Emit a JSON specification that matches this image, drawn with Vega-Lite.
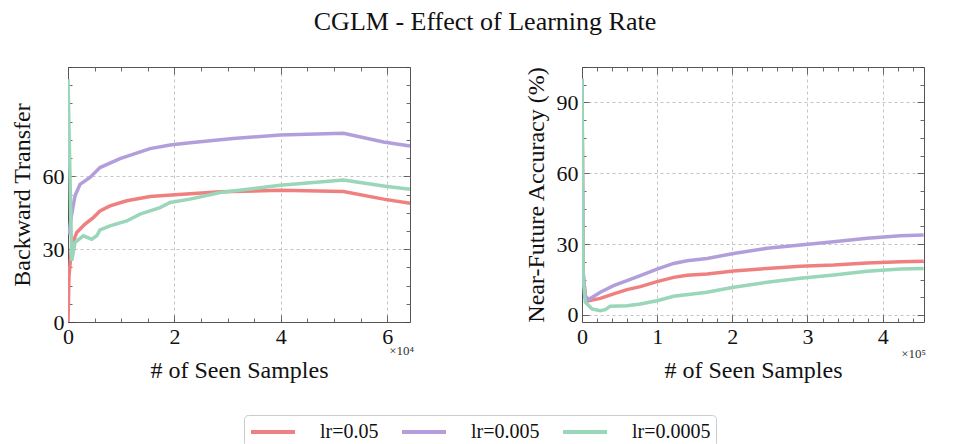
{
  "$schema": "https://vega.github.io/schema/vega-lite/v6.json",
  "background": "white",
  "padding": {"left": 10, "top": 9, "right": 5, "bottom": 5},
  "title": {"text": "CGLM - Effect of Learning Rate", "font": "Liberation Serif", "fontSize": 26, "fontWeight": "normal", "color": "#111", "anchor": "middle", "offset": 21, "dx": 17},
  "config": {
    "font": "Liberation Serif",
    "view": {"stroke": null},
    "axis": {
      "labelFont": "Liberation Serif", "labelFontSize": 22, "labelColor": "#111",
      "titleFont": "Liberation Serif", "titleFontSize": 24, "titleFontWeight": "normal", "titleColor": "#111",
      "domainColor": "#555", "domainWidth": 1, "tickColor": "#444", "tickWidth": 0.8,
      "gridColor": "#b5b5b5", "gridDash": [3, 3], "gridWidth": 0.8,
      "labelOverlap": false, "labelFlush": false, "labelPadding": 11
    }
  },
  "datasets": {
    "bt": [
      {"lr": "lr=0.05", "samples": 0, "value": 0},
      {"lr": "lr=0.05", "samples": 190, "value": 19},
      {"lr": "lr=0.05", "samples": 700, "value": 31.4},
      {"lr": "lr=0.05", "samples": 1640, "value": 36.9},
      {"lr": "lr=0.05", "samples": 3200, "value": 40.3},
      {"lr": "lr=0.05", "samples": 4760, "value": 43},
      {"lr": "lr=0.05", "samples": 6020, "value": 45.7},
      {"lr": "lr=0.05", "samples": 7900, "value": 47.8},
      {"lr": "lr=0.05", "samples": 11040, "value": 49.9},
      {"lr": "lr=0.05", "samples": 15430, "value": 51.7},
      {"lr": "lr=0.05", "samples": 20130, "value": 52.4},
      {"lr": "lr=0.05", "samples": 28600, "value": 53.6},
      {"lr": "lr=0.05", "samples": 39890, "value": 54.2},
      {"lr": "lr=0.05", "samples": 51800, "value": 53.7},
      {"lr": "lr=0.05", "samples": 59320, "value": 50.6},
      {"lr": "lr=0.05", "samples": 64300, "value": 48.9},
      {"lr": "lr=0.005", "samples": 150, "value": 36},
      {"lr": "lr=0.005", "samples": 660, "value": 44},
      {"lr": "lr=0.005", "samples": 1320, "value": 52},
      {"lr": "lr=0.005", "samples": 2260, "value": 56.7},
      {"lr": "lr=0.005", "samples": 4140, "value": 59.5},
      {"lr": "lr=0.005", "samples": 6020, "value": 63.6},
      {"lr": "lr=0.005", "samples": 9780, "value": 67.3},
      {"lr": "lr=0.005", "samples": 15430, "value": 71.4},
      {"lr": "lr=0.005", "samples": 19190, "value": 72.9},
      {"lr": "lr=0.005", "samples": 22950, "value": 73.8},
      {"lr": "lr=0.005", "samples": 31040, "value": 75.6},
      {"lr": "lr=0.005", "samples": 39890, "value": 77},
      {"lr": "lr=0.005", "samples": 51800, "value": 77.7},
      {"lr": "lr=0.005", "samples": 59320, "value": 74.1},
      {"lr": "lr=0.005", "samples": 64300, "value": 72.5},
      {"lr": "lr=0.0005", "samples": 0, "value": 100},
      {"lr": "lr=0.0005", "samples": 700, "value": 25.2},
      {"lr": "lr=0.0005", "samples": 1320, "value": 32.8},
      {"lr": "lr=0.0005", "samples": 2880, "value": 35.5},
      {"lr": "lr=0.0005", "samples": 4460, "value": 34.1},
      {"lr": "lr=0.0005", "samples": 5400, "value": 35.5},
      {"lr": "lr=0.0005", "samples": 6020, "value": 37.9},
      {"lr": "lr=0.0005", "samples": 7900, "value": 39.6},
      {"lr": "lr=0.0005", "samples": 11040, "value": 41.6},
      {"lr": "lr=0.0005", "samples": 13550, "value": 44.4},
      {"lr": "lr=0.0005", "samples": 17310, "value": 47.1},
      {"lr": "lr=0.0005", "samples": 19190, "value": 49.2},
      {"lr": "lr=0.0005", "samples": 22950, "value": 50.6},
      {"lr": "lr=0.0005", "samples": 28600, "value": 53.3},
      {"lr": "lr=0.0005", "samples": 39890, "value": 56.3},
      {"lr": "lr=0.0005", "samples": 51800, "value": 58.5},
      {"lr": "lr=0.0005", "samples": 59320, "value": 56},
      {"lr": "lr=0.0005", "samples": 64300, "value": 54.7}
    ],
    "nfa": [
      {"lr": "lr=0.05", "samples": 0, "value": 100},
      {"lr": "lr=0.05", "samples": 1500, "value": 18},
      {"lr": "lr=0.05", "samples": 4390, "value": 8},
      {"lr": "lr=0.05", "samples": 8780, "value": 6.0},
      {"lr": "lr=0.05", "samples": 24350, "value": 7.0},
      {"lr": "lr=0.05", "samples": 42050, "value": 8.9},
      {"lr": "lr=0.05", "samples": 59880, "value": 10.7},
      {"lr": "lr=0.05", "samples": 77580, "value": 12.0},
      {"lr": "lr=0.05", "samples": 99800, "value": 14.1},
      {"lr": "lr=0.05", "samples": 121890, "value": 15.9},
      {"lr": "lr=0.05", "samples": 139720, "value": 16.8},
      {"lr": "lr=0.05", "samples": 166330, "value": 17.3},
      {"lr": "lr=0.05", "samples": 201730, "value": 18.6},
      {"lr": "lr=0.05", "samples": 246170, "value": 19.7},
      {"lr": "lr=0.05", "samples": 290490, "value": 20.6},
      {"lr": "lr=0.05", "samples": 334800, "value": 21.1},
      {"lr": "lr=0.05", "samples": 379240, "value": 22},
      {"lr": "lr=0.05", "samples": 423490, "value": 22.5},
      {"lr": "lr=0.05", "samples": 454560, "value": 22.7},
      {"lr": "lr=0.005", "samples": 0, "value": 100},
      {"lr": "lr=0.005", "samples": 1500, "value": 18},
      {"lr": "lr=0.005", "samples": 4390, "value": 8},
      {"lr": "lr=0.005", "samples": 8780, "value": 6.5},
      {"lr": "lr=0.005", "samples": 24350, "value": 9.6},
      {"lr": "lr=0.005", "samples": 42050, "value": 12.4},
      {"lr": "lr=0.005", "samples": 59880, "value": 14.5},
      {"lr": "lr=0.005", "samples": 77580, "value": 16.6},
      {"lr": "lr=0.005", "samples": 99800, "value": 19.4},
      {"lr": "lr=0.005", "samples": 121890, "value": 21.8},
      {"lr": "lr=0.005", "samples": 139720, "value": 22.9},
      {"lr": "lr=0.005", "samples": 166330, "value": 23.9},
      {"lr": "lr=0.005", "samples": 201730, "value": 26},
      {"lr": "lr=0.005", "samples": 246170, "value": 28.2},
      {"lr": "lr=0.005", "samples": 290490, "value": 29.6},
      {"lr": "lr=0.005", "samples": 334800, "value": 31},
      {"lr": "lr=0.005", "samples": 379240, "value": 32.5},
      {"lr": "lr=0.005", "samples": 423490, "value": 33.5},
      {"lr": "lr=0.005", "samples": 454560, "value": 33.8},
      {"lr": "lr=0.0005", "samples": 0, "value": 100},
      {"lr": "lr=0.0005", "samples": 1500, "value": 16},
      {"lr": "lr=0.0005", "samples": 4390, "value": 5.4},
      {"lr": "lr=0.0005", "samples": 13310, "value": 2.5},
      {"lr": "lr=0.0005", "samples": 24350, "value": 1.8},
      {"lr": "lr=0.0005", "samples": 31000, "value": 2.2},
      {"lr": "lr=0.0005", "samples": 37660, "value": 3.7},
      {"lr": "lr=0.0005", "samples": 59880, "value": 3.9},
      {"lr": "lr=0.0005", "samples": 77580, "value": 4.6},
      {"lr": "lr=0.0005", "samples": 99800, "value": 6.0},
      {"lr": "lr=0.0005", "samples": 121890, "value": 7.9},
      {"lr": "lr=0.0005", "samples": 166330, "value": 9.6},
      {"lr": "lr=0.0005", "samples": 201730, "value": 11.7},
      {"lr": "lr=0.0005", "samples": 246170, "value": 13.8},
      {"lr": "lr=0.0005", "samples": 290490, "value": 15.5},
      {"lr": "lr=0.0005", "samples": 334800, "value": 16.9},
      {"lr": "lr=0.0005", "samples": 379240, "value": 18.5},
      {"lr": "lr=0.0005", "samples": 423490, "value": 19.4},
      {"lr": "lr=0.0005", "samples": 454560, "value": 19.7}
    ]
  },
  "spacing": 172,
  "bounds": "flush",
  "resolve": {"scale": {"color": "shared"}},
  "hconcat": [
    {
      "width": 342,
      "height": 255,
      "resolve": {"axis": {"x": "independent", "y": "independent"}},
      "layer": [
        {
          "data": {"name": "bt"},
          "mark": {"type": "line", "strokeWidth": 3.5, "clip": true},
          "encoding": {
            "x": {"field": "samples", "type": "quantitative", "scale": {"domain": [0, 64300], "nice": false},
              "axis": {"orient": "bottom", "title": "# of Seen Samples", "titlePadding": 8,
                "values": [0, 5000, 10000, 15000, 20000, 25000, 30000, 35000, 40000, 45000, 50000, 55000, 60000],
                "labelExpr": "datum.value % 20000 === 0 ? format(datum.value / 10000, 'd') : ''",
                "tickSize": {"condition": {"test": "datum.value % 20000 === 0", "value": -7}, "value": -4},
                "gridOpacity": {"condition": {"test": "datum.value % 20000 === 0", "value": 1}, "value": 0}}},
            "y": {"field": "value", "type": "quantitative", "scale": {"domain": [0, 105], "nice": false},
              "axis": {"orient": "left", "title": "Backward Transfer", "titlePadding": 8,
                "values": [0, 7.5, 15, 22.5, 30, 37.5, 45, 52.5, 60, 67.5, 75, 82.5, 90, 97.5, 105],
                "labelExpr": "(datum.value % 30 === 0 && datum.value <= 60) ? format(datum.value, 'd') : ''",
                "tickSize": {"condition": {"test": "datum.value % 30 === 0 && datum.value <= 60", "value": -7}, "value": -4},
                "gridOpacity": {"condition": {"test": "datum.value % 30 === 0 && datum.value <= 60", "value": 1}, "value": 0}}},
            "color": {"field": "lr", "type": "nominal",
              "scale": {"domain": ["lr=0.05", "lr=0.005", "lr=0.0005"], "range": ["#F08080", "#B39EDC", "#9AD6B9"]},
              "legend": {"orient": "none", "legendX": 176, "legendY": 348, "direction": "horizontal", "columns": 3, "title": null,
                "symbolType": "M-2.2,0H2.2", "symbolStrokeWidth": 4, "symbolSize": 400, "symbolOffset": 12,
                "labelFontSize": 20, "labelFont": "Liberation Serif",
                "labelColor": "#111", "strokeColor": "#cccccc", "padding": 5, "cornerRadius": 4, "columnPadding": 15, "labelOffset": 35}}
          }
        },
        {
          "data": {"name": "bt"},
          "mark": {"type": "line", "strokeOpacity": 0},
          "encoding": {
            "x": {"field": "samples", "type": "quantitative",
              "axis": {"orient": "top", "title": null, "labels": false, "grid": false,
                "values": [0, 5000, 10000, 15000, 20000, 25000, 30000, 35000, 40000, 45000, 50000, 55000, 60000],
                "tickSize": {"condition": {"test": "datum.value % 20000 === 0", "value": -7}, "value": -4}}},
            "y": {"field": "value", "type": "quantitative",
              "axis": {"orient": "right", "title": null, "labels": false, "grid": false,
                "values": [0, 7.5, 15, 22.5, 30, 37.5, 45, 52.5, 60, 67.5, 75, 82.5, 90, 97.5, 105],
                "tickSize": {"condition": {"test": "datum.value % 30 === 0 && datum.value <= 60", "value": -7}, "value": -4}}},
            "detail": {"field": "lr"}
          }
        },
        {
          "data": {"values": [{}]},
          "mark": {"type": "text", "text": "×10⁴", "align": "right", "baseline": "middle", "fontSize": 13, "font": "Liberation Serif", "color": "#333", "dx": 4},
          "encoding": {
            "x": {"datum": 64300, "type": "quantitative", "axis": null},
            "y": {"datum": -12, "type": "quantitative", "axis": null}
          }
        }
      ]
    },
    {
      "width": 342,
      "height": 255,
      "resolve": {"axis": {"x": "independent", "y": "independent"}},
      "layer": [
        {
          "data": {"name": "nfa"},
          "mark": {"type": "line", "strokeWidth": 3.5, "clip": true},
          "encoding": {
            "x": {"field": "samples", "type": "quantitative", "scale": {"domain": [0, 455000], "nice": false},
              "axis": {"orient": "bottom", "title": "# of Seen Samples", "titlePadding": 8,
                "values": [0, 20000, 40000, 60000, 80000, 100000, 120000, 140000, 160000, 180000, 200000, 220000, 240000, 260000, 280000, 300000, 320000, 340000, 360000, 380000, 400000, 420000, 440000],
                "labelExpr": "datum.value % 100000 === 0 ? format(datum.value / 100000, 'd') : ''",
                "tickSize": {"condition": {"test": "datum.value % 100000 === 0", "value": -7}, "value": -4},
                "gridOpacity": {"condition": {"test": "datum.value % 100000 === 0", "value": 1}, "value": 0}}},
            "y": {"field": "value", "type": "quantitative", "scale": {"domain": [-3, 105], "nice": false, "zero": false},
              "axis": {"orient": "left", "title": "Near-Future Accuracy (%)", "titlePadding": 8,
                "values": [0, 7.5, 15, 22.5, 30, 37.5, 45, 52.5, 60, 67.5, 75, 82.5, 90, 97.5, 105],
                "labelExpr": "datum.value % 30 === 0 ? format(datum.value, 'd') : ''",
                "tickSize": {"condition": {"test": "datum.value % 30 === 0", "value": -7}, "value": -4},
                "gridOpacity": {"condition": {"test": "datum.value % 30 === 0", "value": 1}, "value": 0}}},
            "color": {"field": "lr", "type": "nominal",
              "scale": {"domain": ["lr=0.05", "lr=0.005", "lr=0.0005"], "range": ["#F08080", "#B39EDC", "#9AD6B9"]},
              "legend": {"orient": "none", "legendX": 176, "legendY": 348, "direction": "horizontal", "columns": 3, "title": null,
                "symbolType": "M-2.2,0H2.2", "symbolStrokeWidth": 4, "symbolSize": 400, "symbolOffset": 12,
                "labelFontSize": 20, "labelFont": "Liberation Serif",
                "labelColor": "#111", "strokeColor": "#cccccc", "padding": 5, "cornerRadius": 4, "columnPadding": 15, "labelOffset": 35}}
          }
        },
        {
          "data": {"name": "nfa"},
          "mark": {"type": "line", "strokeOpacity": 0},
          "encoding": {
            "x": {"field": "samples", "type": "quantitative",
              "axis": {"orient": "top", "title": null, "labels": false, "grid": false,
                "values": [0, 20000, 40000, 60000, 80000, 100000, 120000, 140000, 160000, 180000, 200000, 220000, 240000, 260000, 280000, 300000, 320000, 340000, 360000, 380000, 400000, 420000, 440000],
                "tickSize": {"condition": {"test": "datum.value % 100000 === 0", "value": -7}, "value": -4}}},
            "y": {"field": "value", "type": "quantitative",
              "axis": {"orient": "right", "title": null, "labels": false, "grid": false,
                "values": [0, 7.5, 15, 22.5, 30, 37.5, 45, 52.5, 60, 67.5, 75, 82.5, 90, 97.5, 105],
                "tickSize": {"condition": {"test": "datum.value % 30 === 0", "value": -7}, "value": -4}}},
            "detail": {"field": "lr"}
          }
        },
        {
          "data": {"values": [{}]},
          "mark": {"type": "text", "text": "×10⁵", "align": "right", "baseline": "middle", "fontSize": 13, "font": "Liberation Serif", "color": "#333", "dx": 2},
          "encoding": {
            "x": {"datum": 455000, "type": "quantitative", "axis": null},
            "y": {"datum": -16.5, "type": "quantitative", "axis": null}
          }
        }
      ]
    }
  ]
}
